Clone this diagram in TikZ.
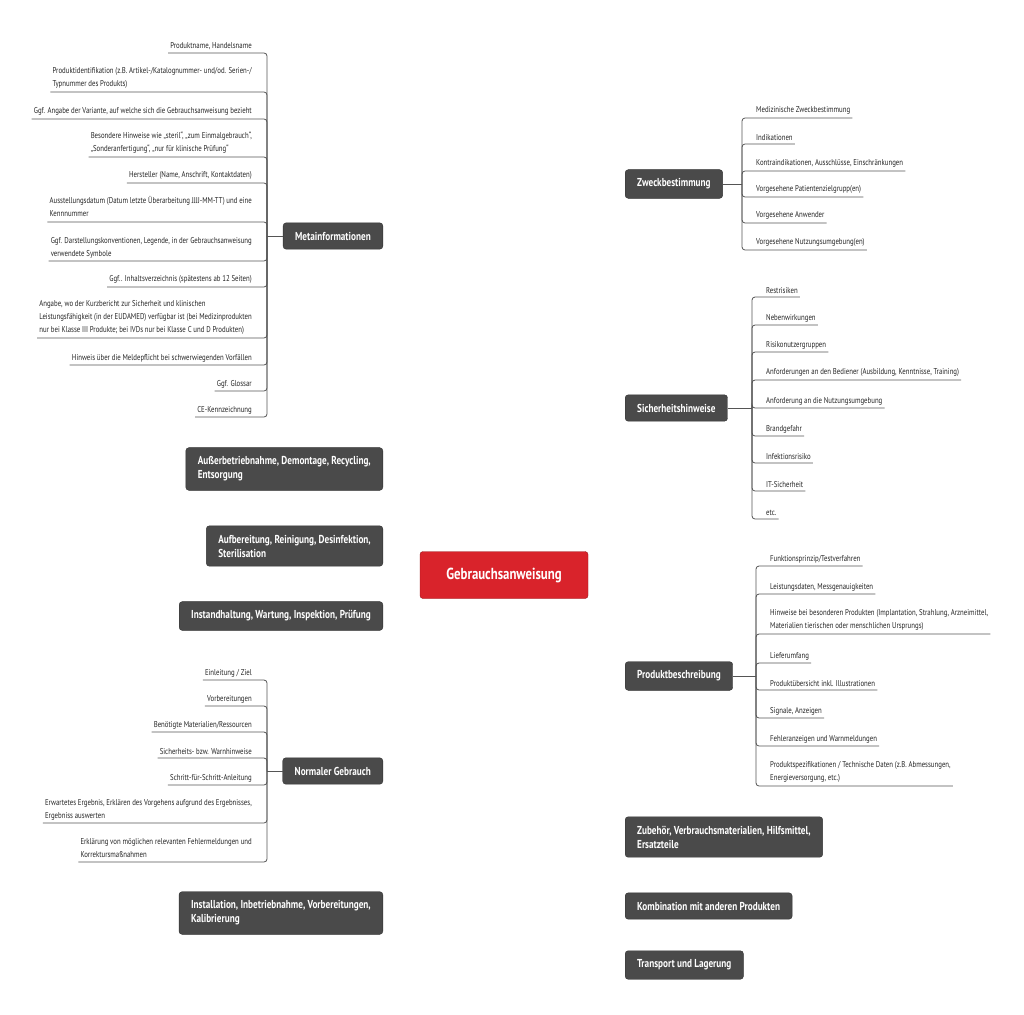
\documentclass[tikz,border=0pt]{standalone}
\usepackage{fontspec}
\setmainfont{PT Sans}[FakeStretch=0.8]
\usetikzlibrary{backgrounds}
\definecolor{boxgray}{HTML}{4A4A4A}
\definecolor{boxred}{HTML}{D9232B}
\definecolor{linegray}{HTML}{555555}
\tikzset{
  branch/.style={fill=boxgray,draw=black!80,rounded corners=3pt,text=white,font=\bfseries\fontsize{11.5}{14}\selectfont,inner xsep=12pt,inner ysep=9pt,align=left},
  rootbox/.style={fill=boxred,draw=boxred!70!black,rounded corners=3pt,text=white,font=\bfseries\fontsize{16}{18}\selectfont,minimum width=168pt,minimum height=47pt},
  leaf/.style={font=\fontsize{8.5}{13}\selectfont,text=black!85,inner xsep=2pt,inner ysep=3pt},
  conn/.style={draw=linegray,line width=0.8pt,rounded corners=3pt},
  curve/.style={draw=black!85,line width=0.9pt}
}
\newcommand\ritem[5]{\node[leaf,anchor=south west,align=left] (#1) at (#2+12,#4) {#5};
  \draw[conn] (#2,#3) |- (#1.south east);}
\newcommand\litem[5]{\node[leaf,anchor=south east,align=right] (#1) at (#2-13,#4) {#5};
  \draw[conn] (#2,#3) |- (#1.south west);}
\begin{document}
\begin{tikzpicture}[x=1pt,y=-1pt]
\useasboundingbox[fill=white] (0,0) rectangle (1024,1014);
% root
\node[rootbox] (root) at (504,575) {Gebrauchsanweisung};
% right branches
\node[branch,anchor=west] (zweck) at (625,184) {Zweckbestimmung};
\node[branch,anchor=west] (sich) at (625,408) {Sicherheitshinweise};
\node[branch,anchor=west] (prod) at (625,676) {Produktbeschreibung};
\node[branch,anchor=west] (zub) at (625,837) {Zubehör, Verbrauchsmaterialien, Hilfsmittel,\\Ersatzteile};
\node[branch,anchor=west] (komb) at (625,906) {Kombination mit anderen Produkten};
\node[branch,anchor=west] (trans) at (625,965) {Transport und Lagerung};
% left branches
\node[branch,anchor=east] (meta) at (383,236) {Metainformationen};
\node[branch,anchor=east] (ausser) at (383,469) {Außerbetriebnahme, Demontage, Recycling,\\Entsorgung};
\node[branch,anchor=east] (aufb) at (383,546) {Aufbereitung, Reinigung, Desinfektion,\\Sterilisation};
\node[branch,anchor=east] (inst) at (383,616) {Instandhaltung, Wartung, Inspektion, Prüfung};
\node[branch,anchor=east] (norm) at (383,771) {Normaler Gebrauch};
\node[branch,anchor=east] (install) at (383,913) {Installation, Inbetriebnahme, Vorbereitungen,\\Kalibrierung};
\begin{scope}[on background layer]
\draw[curve] (root.center) to[out=85,in=180,looseness=0.9] (zweck.west);
\draw[curve] (root.center) to[out=80,in=180,looseness=0.9] (sich.west);
\draw[curve] (root.center) to[out=-80,in=180,looseness=0.9] (prod.west);
\draw[curve] (root.center) to[out=-85,in=180,looseness=0.9] (zub.west);
\draw[curve] (root.center) to[out=-87,in=180,looseness=0.9] (komb.west);
\draw[curve] (root.center) to[out=-88,in=180,looseness=0.9] (trans.west);
\draw[curve] (root.center) to[out=97,in=0,looseness=0.9] (meta.east);
\draw[curve] (root.center) to[out=110,in=0,looseness=0.9] (ausser.east);
\draw[curve] (root.center) to[out=165,in=0,looseness=0.9] (aufb.east);
\draw[curve] (root.center) to[out=195,in=0,looseness=0.9] (inst.east);
\draw[curve] (root.center) to[out=-97,in=0,looseness=0.9] (norm.east);
\draw[curve] (root.center) to[out=-93,in=0,looseness=0.9] (install.east);
\end{scope}
% Zweckbestimmung leaves
\draw[conn] (zweck.east) -- (742,184);
\ritem{z1}{742}{184}{118}{Medizinische Zweckbestimmung}
\ritem{z2}{742}{184}{144}{Indikationen}
\ritem{z3}{742}{184}{171}{Kontraindikationen, Ausschlüsse, Einschränkungen}
\ritem{z4}{742}{184}{197}{Vorgesehene Patientenzielgrupp(en)}
\ritem{z5}{742}{184}{223}{Vorgesehene Anwender}
\ritem{z6}{742}{184}{250}{Vorgesehene Nutzungsumgebung(en)}
% Sicherheitshinweise leaves
\draw[conn] (sich.east) -- (752,408);
\ritem{s1}{752}{408}{297}{Restrisiken}
\ritem{s2}{752}{408}{325}{Nebenwirkungen}
\ritem{s3}{752}{408}{352}{Risikonutzergruppen}
\ritem{s4}{752}{408}{380}{Anforderungen an den Bediener (Ausbildung, Kenntnisse, Training)}
\ritem{s5}{752}{408}{408}{Anforderung an die Nutzungsumgebung}
\ritem{s6}{752}{408}{436}{Brandgefahr}
\ritem{s7}{752}{408}{463}{Infektionsrisiko}
\ritem{s8}{752}{408}{491}{IT-Sicherheit}
\ritem{s9}{752}{408}{519}{etc.}
% Produktbeschreibung leaves
\draw[conn] (prod.east) -- (756,676);
\ritem{p1}{756}{676}{566}{Funktionsprinzip/Testverfahren}
\ritem{p2}{756}{676}{594}{Leistungsdaten, Messgenauigkeiten}
\ritem{p3}{756}{676}{634}{Hinweise bei besonderen Produkten (Implantation, Strahlung, Arzneimittel,\\Materialien tierischen oder menschlichen Ursprungs)}
\ritem{p4}{756}{676}{663}{Lieferumfang}
\ritem{p5}{756}{676}{690}{Produktübersicht inkl. Illustrationen}
\ritem{p6}{756}{676}{718}{Signale, Anzeigen}
\ritem{p7}{756}{676}{746}{Fehleranzeigen und Warnmeldungen}
\ritem{p8}{756}{676}{786}{Produktspezifikationen / Technische Daten (z.B. Abmessungen,\\Energieversorgung, etc.)}
% Metainformationen leaves
\draw[conn] (meta.west) -- (267,236);
\litem{m1}{267}{236}{53}{Produktname, Handelsname}
\litem{m2}{267}{236}{92}{Produktidentifikation (z.B. Artikel-/Katalognummer- und/od. Serien-/\\\hbox to 0pt{Typnummer des Produkts)\hss}\phantom{Produktidentifikation (z.B. Artikel-/Katalognummer- und/od. Serien-/}}
\litem{m3}{267}{236}{119}{Ggf. Angabe der Variante, auf welche sich die Gebrauchsanweisung bezieht}
\litem{m4}{267}{236}{157}{Besondere Hinweise wie „steril“, „zum Einmalgebrauch“,\\\hbox to 0pt{„Sonderanfertigung“, „nur für klinische Prüfung“\hss}\phantom{Besondere Hinweise wie „steril“, „zum Einmalgebrauch“,}}
\litem{m5}{267}{236}{183}{Hersteller (Name, Anschrift, Kontaktdaten)}
\litem{m6}{267}{236}{222}{\hbox to 0pt{Ausstellungsdatum (Datum letzte Überarbeitung JJJJ-MM-TT) und eine\hss}\phantom{Ausstellungsdatum (Datum letzte Überarbeitung JJJJ-MM-TT) und eine}\\\hbox to 0pt{Kennnummer\hss}\phantom{Ausstellungsdatum (Datum letzte Überarbeitung JJJJ-MM-TT) und eine}}
\litem{m7}{267}{236}{261}{\hbox to 0pt{Ggf. Darstellungskonventionen, Legende, in der Gebrauchsanweisung\hss}\phantom{Ggf. Darstellungskonventionen, Legende, in der Gebrauchsanweisung}\\\hbox to 0pt{verwendete Symbole\hss}\phantom{Ggf. Darstellungskonventionen, Legende, in der Gebrauchsanweisung}}
\litem{m8}{267}{236}{287}{Ggf.. Inhaltsverzeichnis (spätestens ab 12 Seiten)}
\litem{m9}{267}{236}{338}{\hbox to 0pt{Angabe, wo der Kurzbericht zur Sicherheit und klinischen\hss}\phantom{Leistungsfähigkeit (in der EUDAMED) verfügbar ist (bei Medizinprodukten}\\\hbox to 0pt{Leistungsfähigkeit (in der EUDAMED) verfügbar ist (bei Medizinprodukten\hss}\phantom{Leistungsfähigkeit (in der EUDAMED) verfügbar ist (bei Medizinprodukten}\\\hbox to 0pt{nur bei Klasse III Produkte; bei IVDs nur bei Klasse C und D Produkten)\hss}\phantom{Leistungsfähigkeit (in der EUDAMED) verfügbar ist (bei Medizinprodukten}}
\litem{m10}{267}{236}{365}{Hinweis über die Meldepflicht bei schwerwiegenden Vorfällen}
\litem{m11}{267}{236}{391}{Ggf. Glossar}
\litem{m12}{267}{236}{417}{CE-Kennzeichnung}
% Normaler Gebrauch leaves
\draw[conn] (norm.west) -- (267,771);
\litem{n1}{267}{771}{680}{Einleitung / Ziel}
\litem{n2}{267}{771}{706}{Vorbereitungen}
\litem{n3}{267}{771}{732}{Benötigte Materialien/Ressourcen}
\litem{n4}{267}{771}{758}{Sicherheits- bzw. Warnhinweise}
\litem{n5}{267}{771}{785}{Schritt-für-Schritt-Anleitung}
\litem{n6}{267}{771}{823}{\hbox to 0pt{Erwartetes Ergebnis, Erklären des Vorgehens aufgrund des Ergebnisses,\hss}\phantom{Erwartetes Ergebnis, Erklären des Vorgehens aufgrund des Ergebnisses,}\\\hbox to 0pt{Ergebniss auswerten\hss}\phantom{Erwartetes Ergebnis, Erklären des Vorgehens aufgrund des Ergebnisses,}}
\litem{n7}{267}{771}{862}{\hbox to 0pt{Erklärung von möglichen relevanten Fehlermeldungen und\hss}\phantom{Erklärung von möglichen relevanten Fehlermeldungen und}\\\hbox to 0pt{Korrektursmaßnahmen\hss}\phantom{Erklärung von möglichen relevanten Fehlermeldungen und}}
\end{tikzpicture}
\end{document}
